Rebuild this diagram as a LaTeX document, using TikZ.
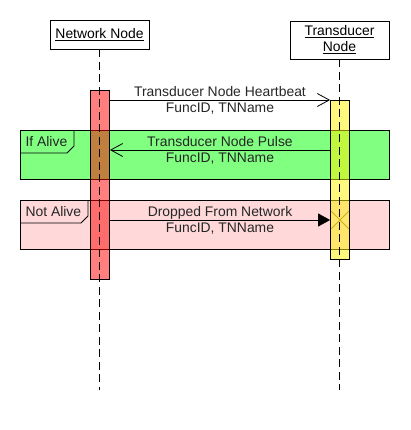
\documentclass[tikz,border=0pt]{standalone}
\usepackage{fontspec}
\setmainfont{Liberation Sans}
\usetikzlibrary{arrows.meta}

\begin{document}
\begin{tikzpicture}[x=1pt,y=-1pt,
  font=\fontsize{13.9}{16}\selectfont,
  head/.style={draw, fill=white, line width=0.8pt, minimum width=99pt, align=center, inner sep=2pt},
  lifeline/.style={line width=0.9pt, dash pattern=on 8pt off 4.5pt},
  bar/.style={draw, line width=0.8pt, fill opacity=0.5, minimum width=19pt, inner sep=0pt},
  frag/.style={draw, line width=0.8pt},
  msg/.style={line width=0.8pt},
  lbl/.style={midway, align=center, text=black!85}]

  \useasboundingbox (0,0) rectangle (410,430);

  % combined fragments
  \draw[frag, fill=green!50] (20.5,130) rectangle (389,179);
  \draw[frag] (20.5,153) -- (67,153) -- (74,146) -- (74,130);
  \node[anchor=west, text=black!85] (alive) at (22,142) {If Alive};
  \draw[frag, fill=red!15] (20.5,200) rectangle (389,249);
  \draw[frag] (20.5,223) -- (81,223) -- (88,216) -- (88,200);
  \node[anchor=west, text=black!85] (notalive) at (22,212) {Not Alive};

  % message levels
  \coordinate (m1) at (0,100);
  \coordinate (m2) at (0,150);
  \coordinate (m3) at (0,220);
  \coordinate (bottom) at (0,390);

  % lost message mark
  \coordinate (lost) at (340,220);
  \draw[line width=0.8pt, color={rgb,255:red,150;green,110;blue,60}]
    (lost) +(-9,-9) -- +(9,9) (lost) +(-9,9) -- +(9,-9);

  % activation bars
  \node[bar, fill=red, minimum height=189pt] (actN) at (100,184.5) {};
  \node[bar, fill=yellow, minimum height=159pt] (actT) at (340,179.5) {};

  % lifelines
  \node[head, minimum height=29pt] (nn) at (99.5,34.5) {\underline{Network Node}};
  \node[head, minimum height=38pt] (tn) at (339.5,40) {\underline{Transducer}\\\underline{Node}};
  \draw[lifeline] (nn.south) -- (nn.south |- bottom);
  \draw[lifeline] (tn.south) -- (tn.south |- bottom);

  % messages
  \draw[msg, -{Straight Barb[length=12pt,width=13pt]}] (actN.east |- m1) -- (actT.west |- m1)
    node[lbl] {Transducer Node Heartbeat\\FuncID, TNName};
  \draw[msg, -{Straight Barb[length=12pt,width=13pt]}] (actT.west |- m2) -- (actN.east |- m2)
    node[lbl] {Transducer Node Pulse\\FuncID, TNName};
  \draw[msg, -{Triangle[length=12pt,width=13pt]}] (actN.east |- m3) -- (actT.west |- m3)
    node[lbl] {Dropped From Network\\FuncID, TNName};
\end{tikzpicture}
\end{document}
